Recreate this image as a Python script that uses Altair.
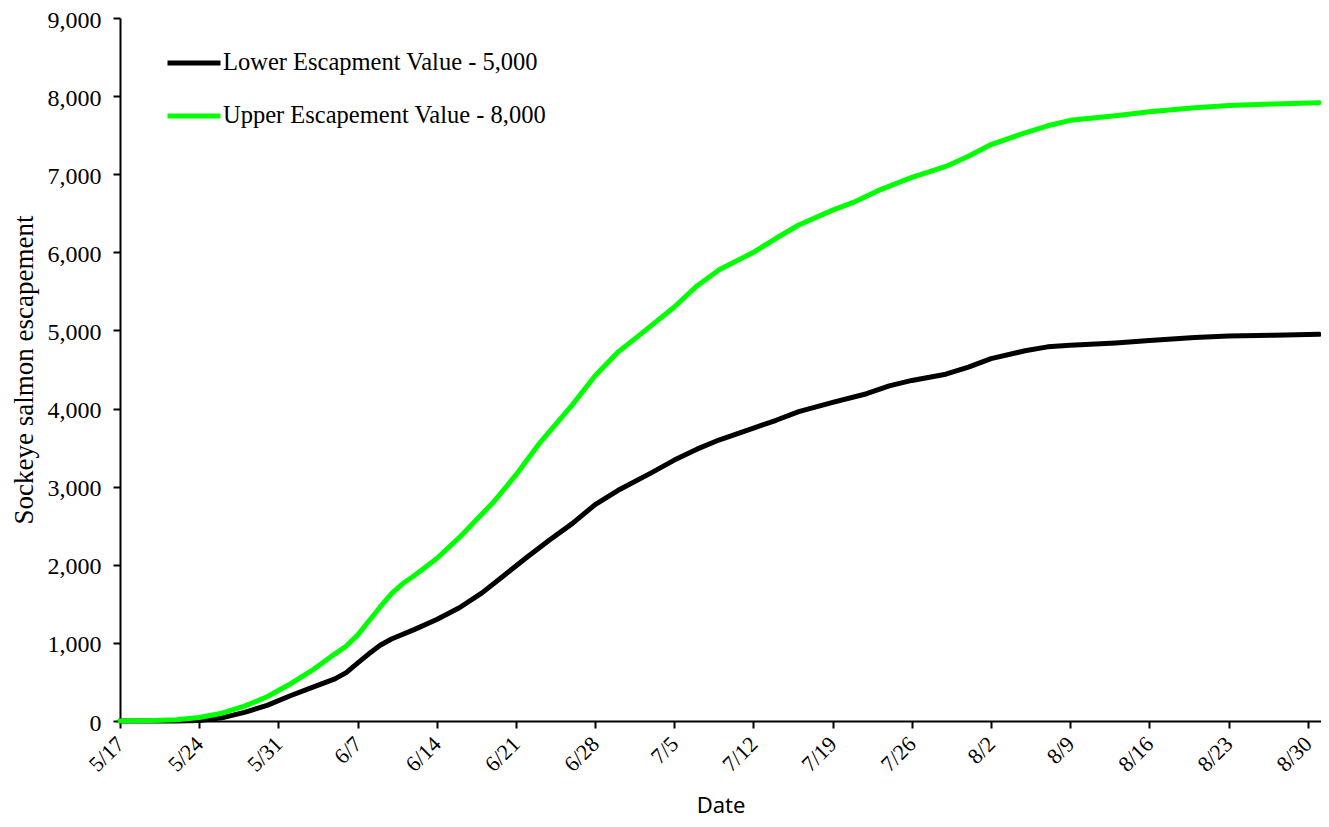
import altair as alt
import pandas as pd
from datetime import datetime, timedelta, timezone

# ---- data ----
start = datetime(2020, 5, 17, tzinfo=timezone.utc)

lower_days = [0, 5, 7, 9, 11, 13, 15, 17, 19, 20, 21, 22, 23, 24, 26, 28, 30, 32, 34, 36,
              38, 40, 42, 44, 47, 49, 51, 53, 56, 58, 60, 63, 66, 68, 70, 73, 75, 77, 80,
              82, 84, 88, 91, 95, 98, 102, 106]
lower_vals = [0, 0, 5, 40, 110, 200, 320, 430, 540, 620, 740, 860, 970, 1050, 1170, 1300,
              1450, 1640, 1870, 2100, 2320, 2530, 2770, 2950, 3180, 3340, 3480, 3600, 3750,
              3850, 3960, 4080, 4190, 4290, 4360, 4440, 4530, 4640, 4740, 4790, 4810, 4840,
              4870, 4910, 4930, 4940, 4950]

upper_days = [0, 3, 5, 7, 9, 11, 13, 15, 17, 19, 20, 21, 22, 23, 24, 25, 26, 28, 30, 32,
              33, 35, 37, 40, 42, 44, 46, 49, 51, 53, 56, 58, 60, 63, 65, 67, 70, 73, 75,
              77, 80, 82, 84, 88, 91, 95, 98, 102, 106]
upper_vals = [0, 5, 15, 45, 100, 190, 310, 470, 650, 860, 960, 1100, 1280, 1460, 1630,
              1760, 1860, 2080, 2350, 2650, 2800, 3150, 3540, 4050, 4420, 4720, 4950, 5300,
              5570, 5780, 6000, 6180, 6350, 6540, 6650, 6790, 6960, 7100, 7230, 7380, 7530,
              7620, 7690, 7750, 7800, 7850, 7880, 7900, 7915]

series_names = ["Lower Escapment Value - 5,000", "Upper Escapement Value - 8,000"]
series_colors = ["#000000", "#00FF00"]

tick_labels = ["5/17", "5/24", "5/31", "6/7", "6/14", "6/21", "6/28", "7/5", "7/12",
               "7/19", "7/26", "8/2", "8/9", "8/16", "8/23", "8/30"]
y_ticks = [0, 1000, 2000, 3000, 4000, 5000, 6000, 7000, 8000, 9000]


def ms(d):
    return int(d.timestamp() * 1000)


def md_to_ms(s):
    m, d = s.split("/")
    return ms(datetime(2020, int(m), int(d), tzinfo=timezone.utc))


rows = []
for dd, v in zip(lower_days, lower_vals):
    rows.append({"date": ms(start + timedelta(days=dd)), "value": v, "series": series_names[0]})
for dd, v in zip(upper_days, upper_vals):
    rows.append({"date": ms(start + timedelta(days=dd)), "value": v, "series": series_names[1]})
df = pd.DataFrame(rows)

x_domain = [ms(start), ms(start + timedelta(days=106, hours=4))]
tick_vals = [md_to_ms(t) for t in tick_labels]

serif = "Liberation Serif"

chart = alt.Chart(df).mark_line(strokeWidth=5, strokeCap="round", strokeJoin="round").encode(
    x=alt.X("date:T",
            scale=alt.Scale(type="utc", domain=x_domain, nice=False),
            axis=alt.Axis(values=tick_vals,
                          labelExpr="utcFormat(datum.value, '%-m/%-d')",
                          labelAngle=-45, labelAlign="right", labelBaseline="middle",
                          labelFont=serif, labelFontSize=22,
                          labelColor="black", tickSize=7, tickColor="black", tickWidth=2,
                          domainColor="black", domainWidth=2, grid=False, labelPadding=12,
                          title="Date", titleFont="Noto Sans", titleFontSize=22,
                          titleFontWeight="normal", titleColor="black",
                          titleY=96, titleBaseline="bottom")),
    y=alt.Y("value:Q",
            scale=alt.Scale(domain=[0, 9000], nice=False),
            axis=alt.Axis(values=y_ticks, labelExpr="format(datum.value, ',')",
                          labelFont=serif, labelFontSize=24, labelOffset=2,
                          labelColor="black", tickSize=7, tickColor="black", tickWidth=2,
                          domainColor="black", domainWidth=2, grid=False, labelPadding=12,
                          title="Sockeye salmon escapement", titleFont=serif,
                          titleFontSize=27, titleFontWeight="normal", titleColor="black",
                          titlePadding=9)),
    color=alt.Color("series:N",
                    scale=alt.Scale(domain=series_names, range=series_colors),
                    legend=alt.Legend(orient="none", legendX=45, legendY=16, title=None,
                                      symbolType="stroke", symbolSize=2809,
                                      symbolStrokeWidth=5, labelFont=serif,
                                      labelFontSize=24.5, labelColor="black", labelOffset=0,
                                      rowPadding=12, padding=0, labelLimit=600)),
).properties(
    width=1201, height=703,
    padding={"left": 112, "top": 10, "right": 0, "bottom": 97},
    autosize=alt.AutoSizeParams(type="none"),
).configure_view(stroke=None)

chart.save("out.html", embed_options={"renderer": "svg", "actions": False})
